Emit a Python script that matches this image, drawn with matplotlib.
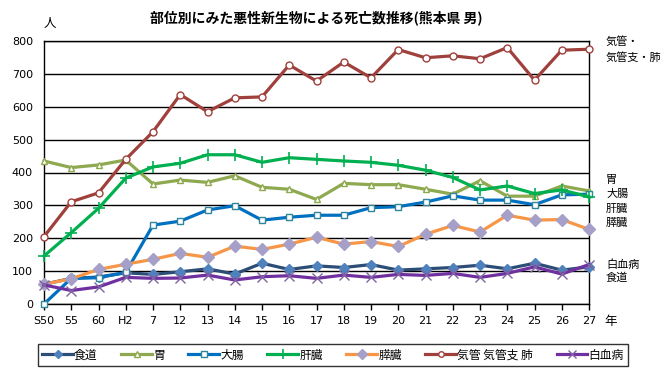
"""
  熊本県 男: 部位別にみた悪性新生物による死亡数推移
"""

import matplotlib
matplotlib.use("Agg")
import matplotlib.pyplot as plt

plt.rcParams["font.family"] = ["Noto Sans CJK JP", "DejaVu Sans"]

years = ["S50", "55", "60", "H2", "7", "12", "13", "14", "15", "16", "17",
         "18", "19", "20", "21", "22", "23", "24", "25", "26", "27"]

shokudo = [60, 78, 82, 95, 90, 98, 107, 91, 124, 105, 116, 111, 120, 103, 107, 111, 118, 107, 124, 103, 113]
i_ = [435, 415, 423, 438, 365, 377, 370, 390, 355, 349, 318, 367, 363, 363, 349, 334, 375, 328, 328, 359, 344]
daicho = [0, 78, 80, 96, 240, 252, 286, 299, 255, 264, 270, 270, 293, 296, 310, 329, 316, 316, 302, 332, 334]
kanzo = [146, 217, 291, 383, 417, 428, 454, 454, 431, 445, 440, 435, 431, 422, 407, 385, 347, 359, 336, 347, 326]
suizo = [60, 77, 105, 121, 136, 154, 142, 176, 166, 182, 203, 182, 190, 175, 212, 239, 219, 270, 255, 257, 227]
hai = [205, 311, 338, 440, 524, 637, 585, 627, 630, 727, 678, 736, 688, 774, 749, 755, 746, 780, 681, 772, 775]
hakketsu = [58, 41, 52, 81, 78, 79, 88, 73, 83, 86, 78, 88, 81, 90, 87, 93, 81, 93, 113, 91, 120]

series = [
  ("食道", shokudo, dict(color="#2c4d75", marker="D", mfc="#4f81bd", mec="#4f81bd", ms=5)),
  ("胃", i_, dict(color="#8ea94f", marker="^", mfc="white", mec="#8ea94f", ms=5)),
  ("大腸", daicho, dict(color="#0070c0", marker="s", mfc="white", mec="#31859c", ms=5)),
  ("肝臓", kanzo, dict(color="#00b050", marker="+", mfc="#00b050", mec="#00b050", ms=9, mew=1.2)),
  ("膵臓", suizo, dict(color="#f79646", marker="D", mfc="#a6a0c8", mec="#a6a0c8", ms=6)),
  ("気管 気管支 肺", hai, dict(color="#a0403c", marker="o", mfc="white", mec="#a0403c", ms=5)),
  ("白血病", hakketsu, dict(color="#7030a0", marker="x", mfc="#8064a2", mec="#8064a2", ms=7, mew=1)),
]

W, H = 665, 375
fig = plt.figure(figsize=(W / 100, H / 100), dpi=100)
ax = fig.add_axes([44 / W, (H - 304) / H, 545 / W, 263 / H])

x = list(range(len(years)))
handles = []
for name, vals, st in series:
  kw = dict(st)
  kw.setdefault("mew", 1)
  ln, = ax.plot(x, vals, lw=2.3, clip_on=False, label=name, zorder=3, **kw)
  handles.append(ln)

ax.set_xlim(0, len(years) - 1)
ax.set_ylim(0, 800)
ax.set_yticks(range(0, 801, 100))
ax.set_xticks(x)
ax.set_xticklabels(years, fontsize=8, family="DejaVu Sans")
for lab in ax.get_yticklabels():
  lab.set_fontsize(8)
  lab.set_family("DejaVu Sans")
ax.tick_params(axis="y", length=0, pad=8)
ax.tick_params(axis="x", direction="out", length=4, width=1, pad=5)
ax.grid(axis="y", color="black", lw=1)
ax.set_axisbelow(True)
for s in ax.spines.values():
  s.set_color("black")
  s.set_linewidth(1)

fig.text(316 / W, 1 - 18 / H, "部位別にみた悪性新生物による死亡数推移(熊本県 男)",
         ha="center", va="center", fontsize=10, fontweight="bold")
fig.text(50 / W, 1 - 24 / H, "人", ha="center", va="center", fontsize=9)
fig.text(611 / W, 1 - 322 / H, "年", ha="center", va="center", fontsize=9)

# right-hand labels
right_labels = [("気管・", 42), ("気管支・肺", 58), ("胃", 180), ("大腸", 194),
                ("肝臓", 209), ("膵臓", 223), ("白血病", 265), ("食道", 278)]
for txt, yp in right_labels:
  fig.text(606 / W, 1 - yp / H, txt, ha="left", va="center", fontsize=8)

leg = fig.legend(handles=handles, loc="center", ncol=7,
                 bbox_to_anchor=(333 / W, 1 - 355 / H), fontsize=8.5,
                 frameon=True, fancybox=False, edgecolor="black",
                 handlelength=2.6, handletextpad=0.1, columnspacing=2.0,
                 borderpad=0.35, markerscale=0.8)
leg.get_frame().set_linewidth(1)

fig.savefig("out.png", dpi=100)
